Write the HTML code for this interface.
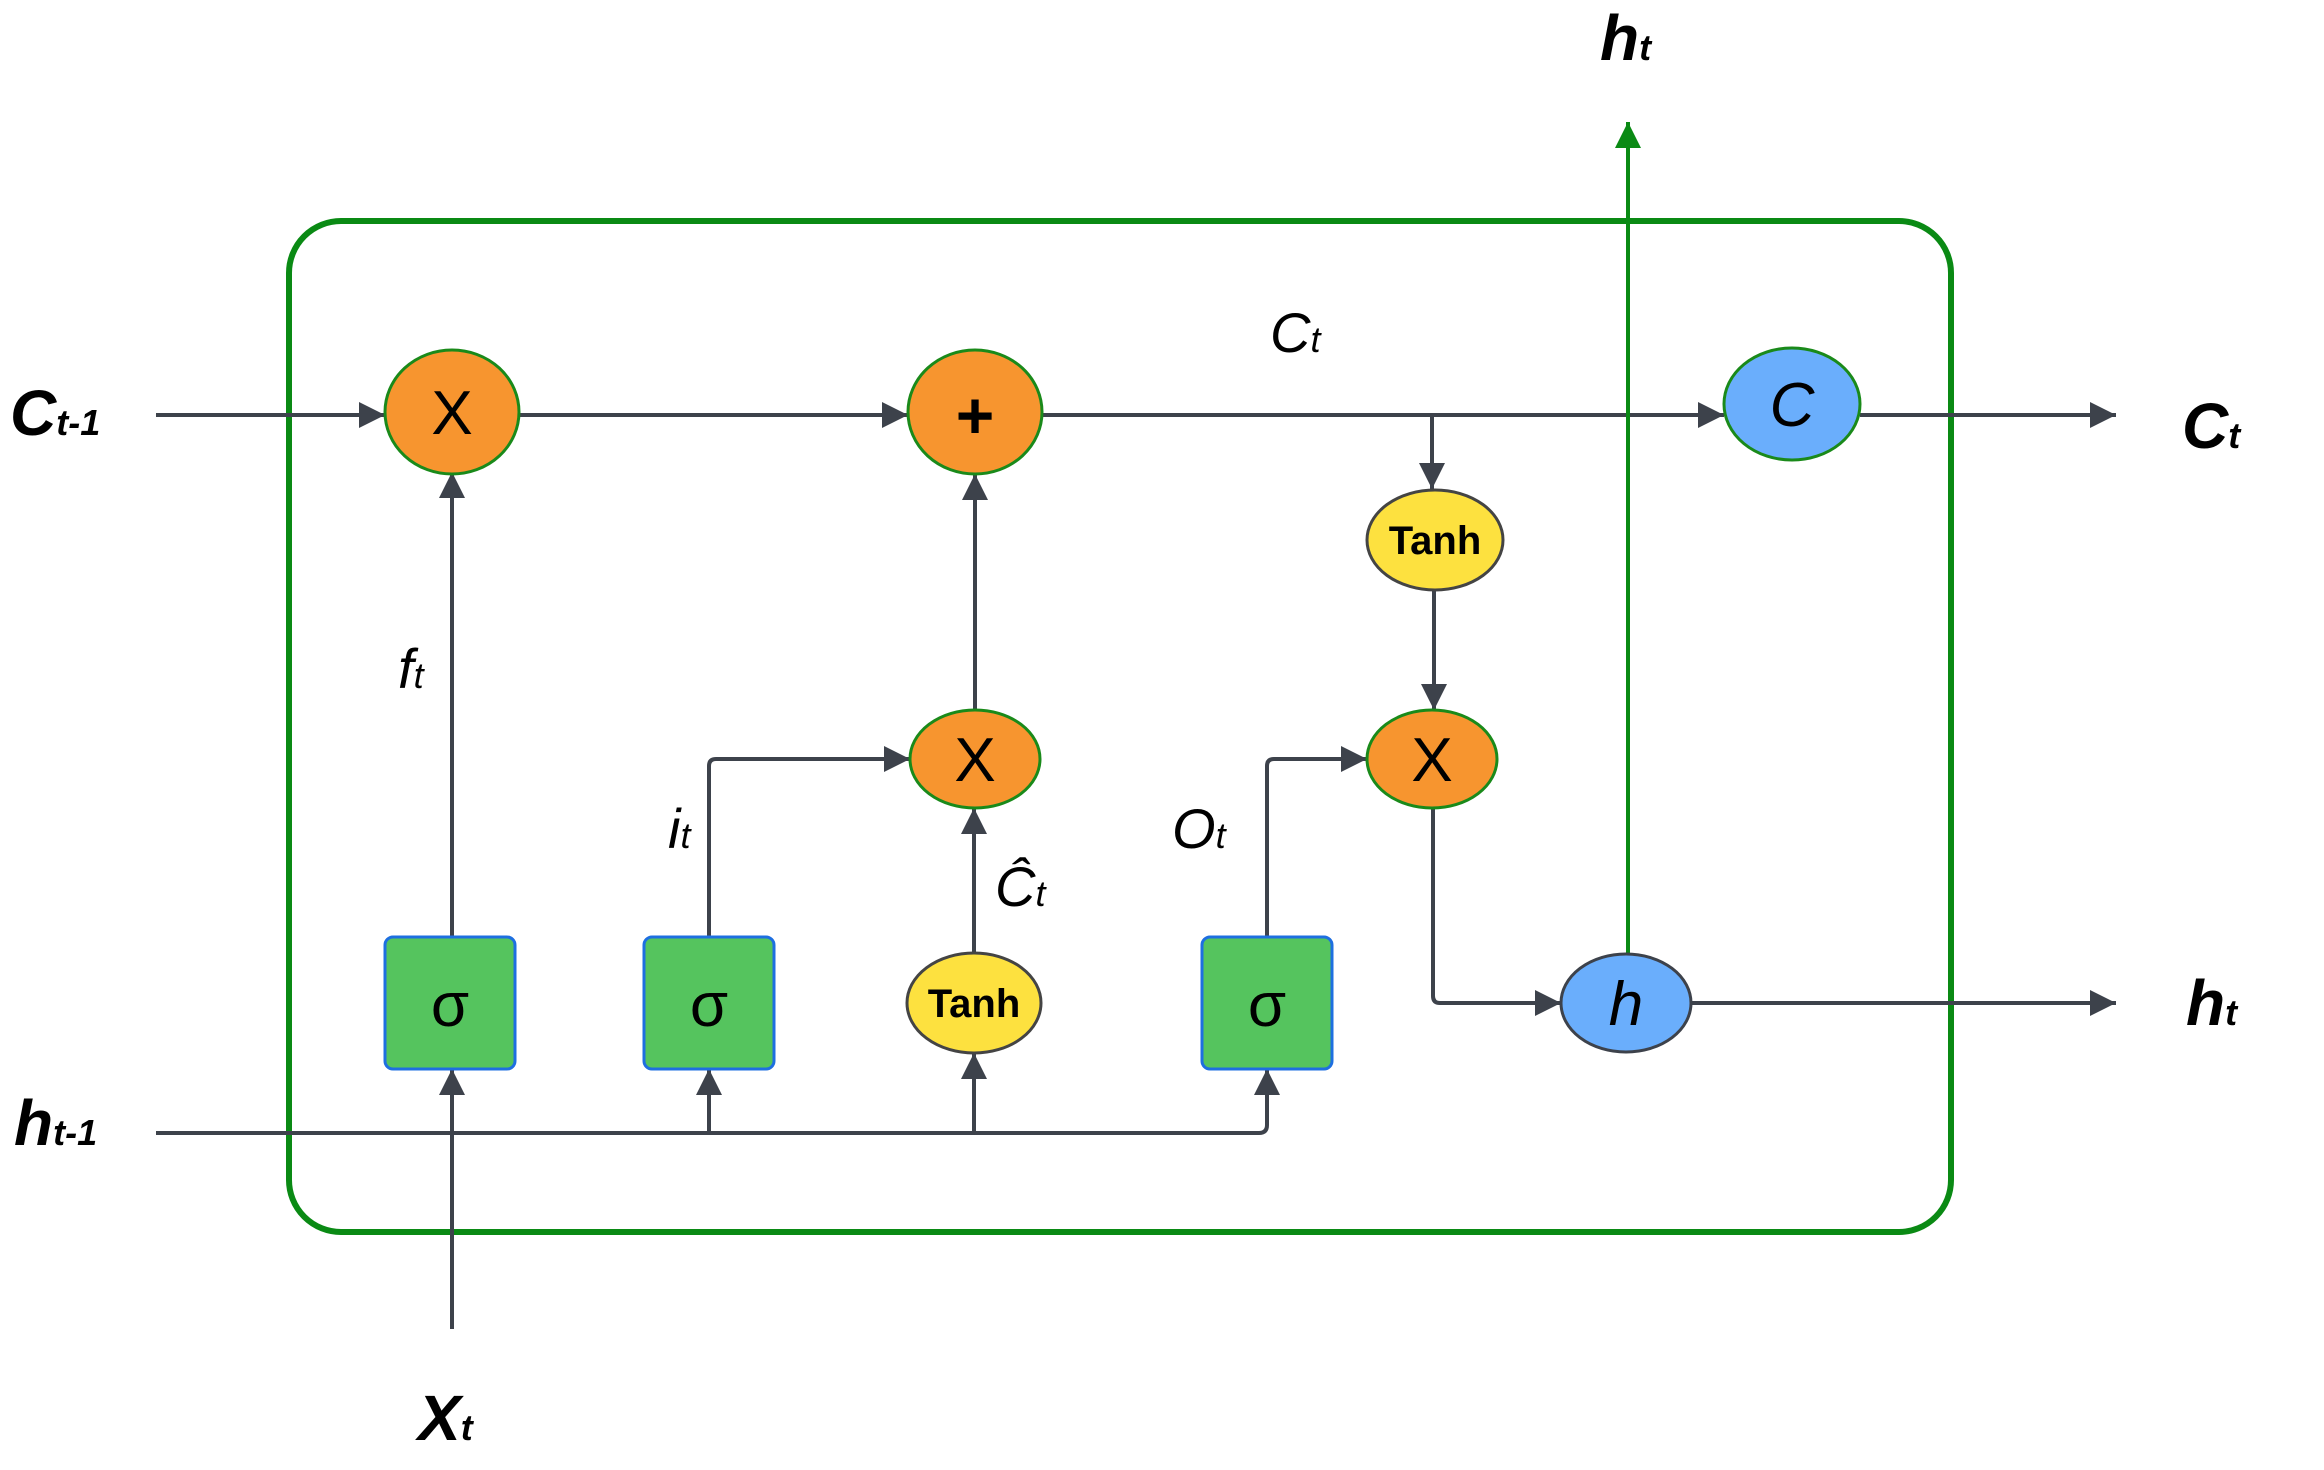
<!DOCTYPE html>
<html><head><meta charset="utf-8"><style>
html,body{margin:0;padding:0;background:#fff;}
svg{display:block;}
text{font-family:"Liberation Sans",Arial,sans-serif;}
</style></head><body>
<svg width="2324" height="1470" viewBox="0 0 2324 1470" xmlns="http://www.w3.org/2000/svg">
<defs>
<marker id="a" viewBox="0 0 10 10" refX="10" refY="5" markerWidth="8.5" markerHeight="6.5" markerUnits="strokeWidth" orient="auto"><path d="M0,0L10,5L0,10z" fill="#3d424b"/></marker>
<marker id="g" viewBox="0 0 10 10" refX="10" refY="5" markerWidth="8.5" markerHeight="6.5" markerUnits="strokeWidth" orient="auto"><path d="M0,0L10,5L0,10z" fill="#0a8a14"/></marker>
</defs>
<rect x="289" y="221" width="1662" height="1011" rx="52" fill="none" stroke="#0a8a14" stroke-width="6"/>
<g stroke="#3d424b" stroke-width="4" fill="none">
<line x1="156" y1="415" x2="385" y2="415" marker-end="url(#a)"/>
<line x1="520" y1="415" x2="908" y2="415" marker-end="url(#a)"/>
<line x1="1043" y1="415" x2="1724" y2="415" marker-end="url(#a)"/>
<line x1="1860" y1="415" x2="2116" y2="415" marker-end="url(#a)"/>
<line x1="1432" y1="415" x2="1432" y2="489" marker-end="url(#a)"/>
<line x1="1434" y1="590" x2="1434" y2="710" marker-end="url(#a)"/>
<path d="M1433,808 V996 Q1433,1003 1440,1003 H1561" marker-end="url(#a)"/>
<line x1="1692" y1="1003" x2="2116" y2="1003" marker-end="url(#a)"/>
<line x1="452" y1="937" x2="452" y2="472" marker-end="url(#a)"/>
<line x1="975" y1="710" x2="975" y2="474" marker-end="url(#a)"/>
<path d="M709,937 V766 Q709,759 716,759 H910" marker-end="url(#a)"/>
<line x1="974" y1="953" x2="974" y2="808" marker-end="url(#a)"/>
<path d="M1267,937 V766 Q1267,759 1274,759 H1367" marker-end="url(#a)"/>
<path d="M156,1133 H1259 Q1267,1133 1267,1125 V1069" marker-end="url(#a)"/>
<line x1="709" y1="1133" x2="709" y2="1069" marker-end="url(#a)"/>
<line x1="974" y1="1133" x2="974" y2="1053" marker-end="url(#a)"/>
<line x1="452" y1="1329" x2="452" y2="1069" marker-end="url(#a)"/>
</g>
<line x1="1628" y1="953" x2="1628" y2="122" stroke="#0a8a14" stroke-width="4" marker-end="url(#g)"/>
<g stroke="#1a8a1a" stroke-width="3" fill="#f7952f">
<ellipse cx="452" cy="412" rx="67" ry="62"/>
<ellipse cx="975" cy="412" rx="67" ry="62"/>
<ellipse cx="975" cy="759" rx="65" ry="49"/>
<ellipse cx="1432" cy="759" rx="65" ry="49"/>
</g>
<ellipse cx="1792" cy="404" rx="68" ry="56" fill="#6aaefc" stroke="#1a8a1a" stroke-width="3"/>
<ellipse cx="1626" cy="1003" rx="65" ry="49" fill="#6aaefc" stroke="#3d424b" stroke-width="3"/>
<g fill="#fde13f" stroke="#444" stroke-width="3">
<ellipse cx="1435" cy="540" rx="68" ry="50"/>
<ellipse cx="974" cy="1003" rx="67" ry="50"/>
</g>
<g fill="#55c45e" stroke="#1e6fe0" stroke-width="3">
<rect x="385" y="937" width="130" height="132" rx="8"/>
<rect x="644" y="937" width="130" height="132" rx="8"/>
<rect x="1202" y="937" width="130" height="132" rx="8"/>
</g>
<g font-size="62" text-anchor="middle" fill="#000">
<text x="452" y="434">X</text>
<text x="975" y="781">X</text>
<text x="1432" y="781">X</text>
<text x="975" y="438" font-weight="bold" font-size="66">+</text>
<text x="450" y="1026">σ</text>
<text x="709" y="1026">σ</text>
<text x="1267" y="1026">σ</text>
<text x="1792" y="426" font-style="italic">C</text>
<text x="1626" y="1025" font-style="italic">h</text>
</g>
<g font-size="40" font-weight="bold" text-anchor="middle">
<text x="1435" y="554">Tanh</text>
<text x="974" y="1017">Tanh</text>
</g>
<g font-style="italic" font-weight="bold" fill="#000">
<text x="10" y="435" font-size="64">C<tspan font-size="36">t-1</tspan></text>
<text x="14" y="1145" font-size="64">h<tspan font-size="36">t-1</tspan></text>
<text x="418" y="1440" font-size="64">X<tspan font-size="36">t</tspan></text>
<text x="2182" y="448" font-size="64">C<tspan font-size="36">t</tspan></text>
<text x="2186" y="1025" font-size="64">h<tspan font-size="36">t</tspan></text>
<text x="1600" y="60" font-size="64">h<tspan font-size="36">t</tspan></text>
</g>
<g font-style="italic" font-size="56" fill="#000">
<text x="1270" y="352">C<tspan font-size="36">t</tspan></text>
<text x="398" y="688">f<tspan font-size="36">t</tspan></text>
<text x="668" y="848">i<tspan font-size="36">t</tspan></text>
<text x="995" y="906">Ĉ<tspan font-size="36">t</tspan></text>
<text x="1172" y="848">O<tspan font-size="36">t</tspan></text>
</g>
</svg>
</body></html>
